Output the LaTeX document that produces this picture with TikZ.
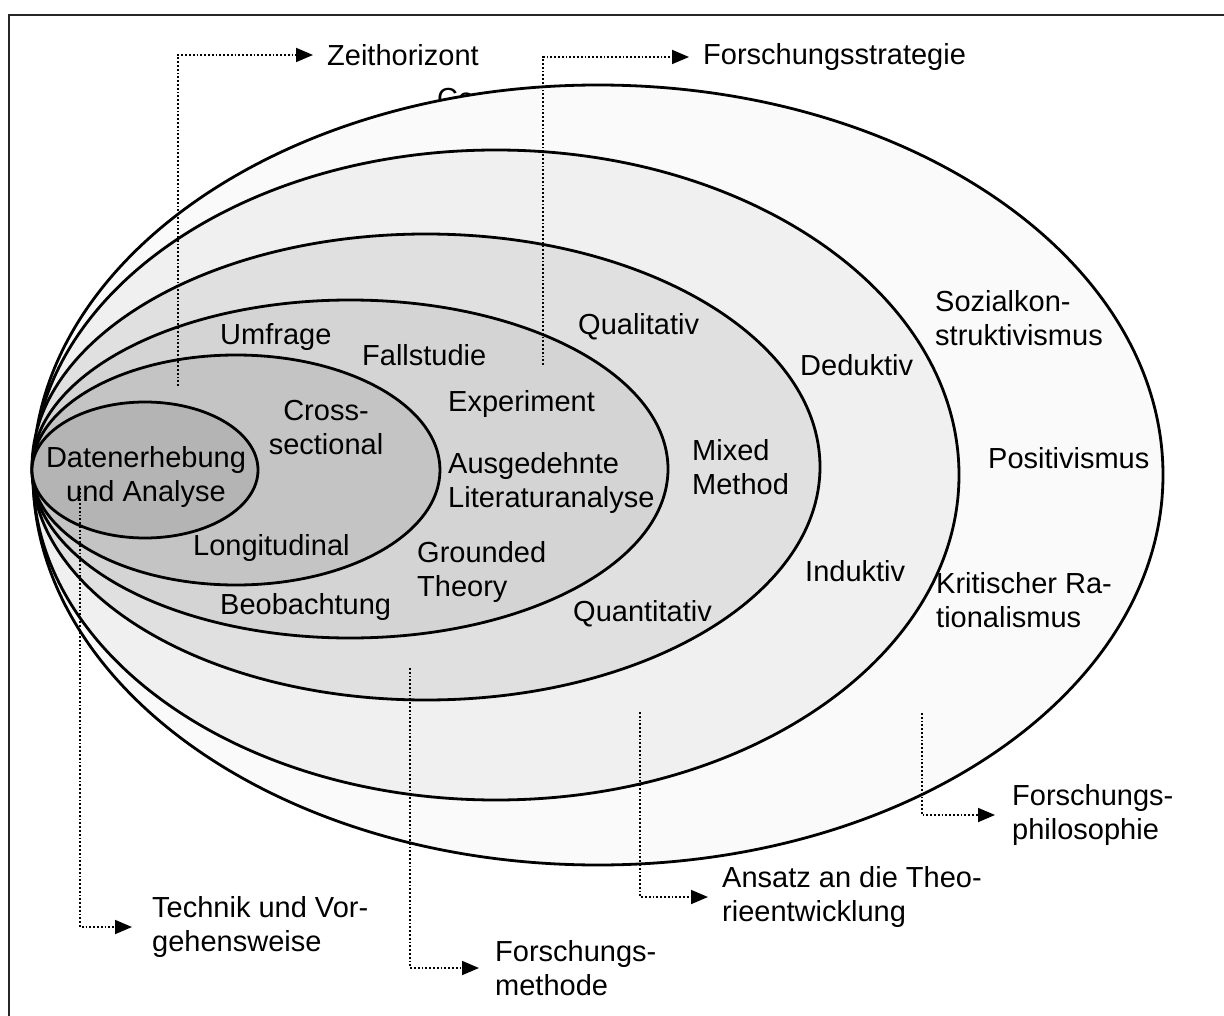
\documentclass[tikz,border=0pt]{standalone}
\usepackage{fontspec}
\setmainfont{Liberation Sans}
\usetikzlibrary{shapes.geometric,arrows.meta}
\definecolor{fA}{HTML}{FAFAFA}
\definecolor{fB}{HTML}{F0F0F0}
\definecolor{fC}{HTML}{E0E0E0}
\definecolor{fD}{HTML}{D4D4D4}
\definecolor{fE}{HTML}{C4C4C4}
\definecolor{fF}{HTML}{B4B4B4}
\tikzset{
  ring/.style={ellipse, draw=black, line width=2.8pt, inner sep=0pt, outer sep=0pt},
  leader/.style={dotted, line width=1.8pt, -{Triangle[length=17pt,width=14pt]}},
  lbl/.style={inner sep=0pt, font=\fontsize{29}{34}\selectfont, text=black},
  lblL/.style={lbl, anchor=west, align=left},
  lblC/.style={lbl, align=center},
  frame/.style={line width=1.4pt, draw=black!85}
}
\begin{document}
\begin{tikzpicture}[x=1pt,y=-1pt]
\useasboundingbox (0,0) rectangle (1224,1016);
\fill[white] (0,0) rectangle (1224,1016);
\draw[frame] (9,1016) -- (9,15) -- (1224,15);
% text partly covered by the outer ellipse
\node[lblL, anchor=base west] (co) at (437,109) {Co};
% rings
\node[ring, fill=fA, minimum width=1130pt, minimum height=780pt] (e1) at (598,475) {};
\node[ring, fill=fB, minimum width=926pt, minimum height=650pt] (e2) at (496,475) {};
\node[ring, fill=fC, minimum width=788pt, minimum height=466pt] (e3) at (426,467) {};
\node[ring, fill=fD, minimum width=636pt, minimum height=338pt] (e4) at (350,469) {};
\node[ring, fill=fE, minimum width=408pt, minimum height=230pt] (e5) at (236,470) {};
\node[ring, fill=fF, minimum width=226pt, minimum height=136pt] (e6) at (145,470) {};
% labels inside
\node[lblL] (t1) at (935,318) {Sozialkon-\\struktivismus};
\node[lblL] (t2) at (988,458) {Positivismus};
\node[lblL] (t3) at (936,600) {Kritischer Ra-\\tionalismus};
\node[lblL] (t4) at (800,365) {Deduktiv};
\node[lblL] (t5) at (805,571) {Induktiv};
\node[lblL] (t6) at (578,327) {Qualitativ};
\node[lblL] (t7) at (692,467) {Mixed\\Method};
\node[lblL] (t8) at (573,614) {Quantitativ};
\node[lblL] (t9) at (220,337) {Umfrage};
\node[lblL] (t10) at (362,355) {Fallstudie};
\node[lblL] (t11) at (448,404) {Experiment};
\node[lblL] (t12) at (448,483) {Ausgedehnte\\Literaturanalyse};
\node[lblL] (t13) at (417,572) {Grounded\\Theory};
\node[lblL] (t14) at (220,607) {Beobachtung};
\node[lblC] (t15) at (326,428) {Cross-\\sectional};
\node[lblL] (t16) at (193,548) {Longitudinal};
\node[lblC] (t17) at (146,477) {Datenerhebung\\und Analyse};
% outer labels
\node[lblL] (zh) at (327,55) {Zeithorizont};
\node[lblL] (fs) at (703,57) {Forschungsstrategie};
\node[lblL] (tv) at (152,927) {Technik und Vor-\\gehensweise};
\node[lblL] (fm) at (495,968) {Forschungs-\\methode};
\node[lblL] (at) at (722,897) {Ansatz an die Theo-\\rieentwicklung};
\node[lblL] (fp) at (1012,815) {Forschungs-\\philosophie};
% leader starts
\coordinate (szh) at (178,386);
\coordinate (sfs) at (543,365);
\coordinate (stv) at (80,488);
\coordinate (sfm) at (410,668);
\coordinate (sat) at (640,712);
\coordinate (sfp) at (922,713);
\draw[leader, shorten >=14pt] (szh) |- (zh.west);
\draw[leader, shorten >=14pt] (sfs) |- (fs.west);
\draw[leader, shorten >=20pt] (stv) |- (tv.west);
\draw[leader, shorten >=16pt] (sfm) |- (fm.west);
\draw[leader, shorten >=14pt] (sat) |- (at.west);
\draw[leader, shorten >=17pt] (sfp) |- (fp.west);
\end{tikzpicture}
\end{document}
